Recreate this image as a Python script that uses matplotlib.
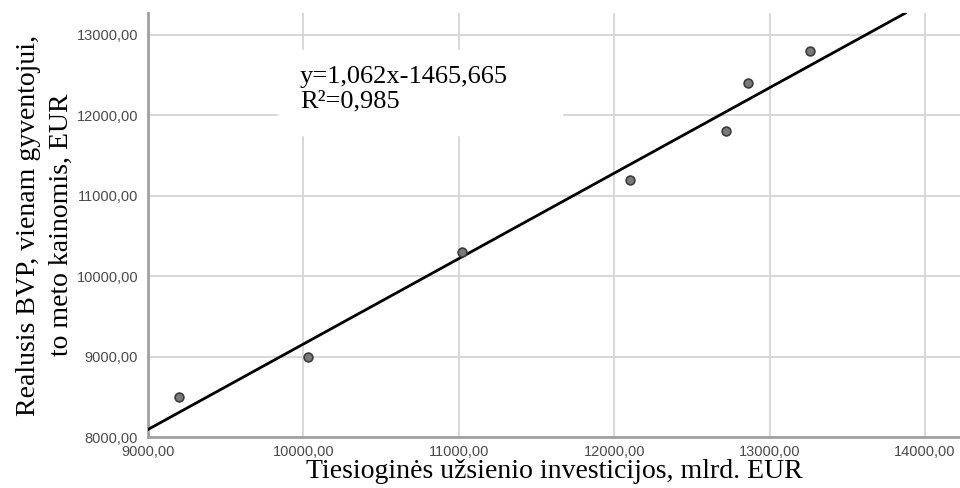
import matplotlib.pyplot as plt
from matplotlib.ticker import FuncFormatter, MultipleLocator
import numpy as np

# data
fdi = [9200, 10030, 11020, 12100, 12720, 12860, 13260]
gdp = [8500, 9000, 10300, 11200, 11800, 12400, 12800]

slope = 1.062
intercept = -1465.665
r2 = 0.985

xmin, xmax = 9000, 14225
ymin, ymax = 8000, 13267

fig = plt.figure(figsize=(9.6, 4.88), dpi=100)
ax = fig.add_axes([0.154, 0.1045, 0.846, 0.8685])

ax.set_xlim(xmin, xmax)
ax.set_ylim(ymin, ymax)

ax.xaxis.set_major_locator(MultipleLocator(1000))
ax.yaxis.set_major_locator(MultipleLocator(1000))
fmt = FuncFormatter(lambda v, p: ("%.2f" % v).replace(".", ","))
ax.xaxis.set_major_formatter(fmt)
ax.yaxis.set_major_formatter(fmt)

ax.grid(True, color="#d6d6d6", linewidth=1.3)
ax.set_axisbelow(True)

for s in ["top", "right"]:
    ax.spines[s].set_visible(False)
for s in ["left", "bottom"]:
    ax.spines[s].set_color("#a0a0a0")
    ax.spines[s].set_linewidth(2)

ax.tick_params(length=0, labelsize=10.5, labelcolor="#4a4a4a")
ax.tick_params(axis="x", pad=6)
ax.tick_params(axis="y", pad=7)
for lab in ax.get_xticklabels() + ax.get_yticklabels():
    lab.set_family("Liberation Sans")

# regression line (clipped at the top of the plot)
x_end = (ymax - intercept) / slope
xs = np.array([xmin, x_end])
ax.plot(xs, slope * xs + intercept, color="black", linewidth=2, zorder=3)

ax.scatter(fdi, gdp, s=40, color="#7a7a7a", edgecolor="#3c3c3c",
           linewidth=1.2, zorder=4)

# white box behind the equation text
ax.fill_between([9837, 11664], 11752, 12807, color="white", zorder=2)
ax.text(9978, 12610, "y=1,062x-1465,665\nR\u00b2=" + ("%.3f" % r2).replace(".", ","),
        family="Liberation Serif", fontsize=19, va="top", ha="left",
        linespacing=1.12, zorder=5)

ax.set_xlabel("Tiesioginės užsienio investicijos, mlrd. EUR",
              family="Liberation Serif", fontsize=20, labelpad=0)
ax.set_ylabel("Realusis BVP, vienam gyventojui,\nto meto kainomis, EUR",
              family="Liberation Serif", fontsize=20, labelpad=2,
              linespacing=1.4)

plt.savefig("out.png", dpi=100)
